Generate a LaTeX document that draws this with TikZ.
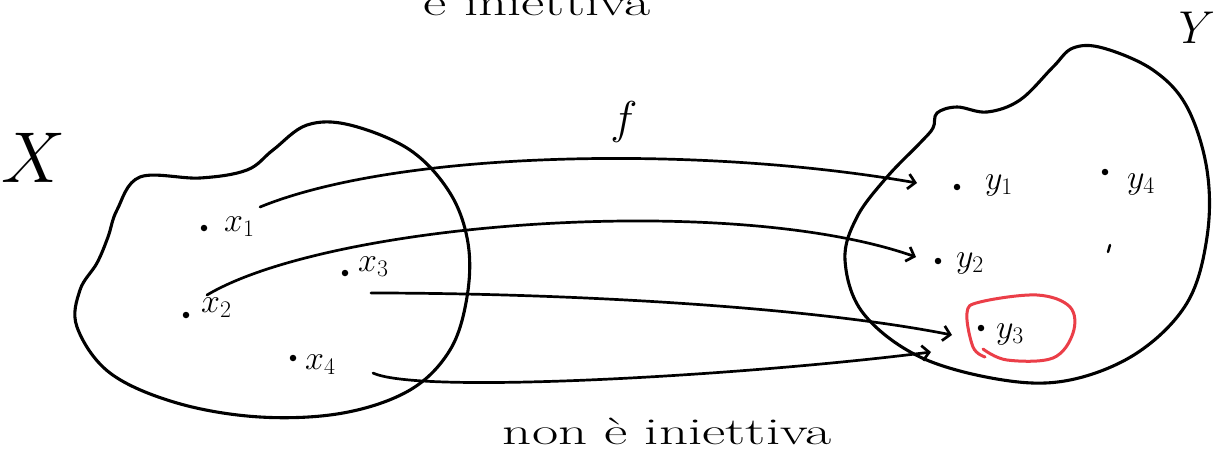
\RequirePackage{fix-cm}
\documentclass[tikz,border=0pt]{standalone}
\usetikzlibrary{arrows.meta}
\definecolor{redpen}{RGB}{235,62,72}
\begin{document}
\begin{tikzpicture}[x=1pt,y=-1pt,
  pen/.style={line width=3.1pt,line cap=round,line join=round,black},
  mapto/.style={pen,line width=2.7pt,-{Straight Barb[length=7pt,width=15pt,line width=2.7pt]}},
  ptdot/.style={circle,fill=black,inner sep=0pt,minimum size=6.5pt},
  lbl/.style={inner sep=0pt,anchor=base west,font=\fontsize{34}{38}\selectfont},
  settitle/.style={inner sep=0pt,anchor=base,font=\fontsize{72}{80}\selectfont},
  caption/.style={inner sep=0pt,anchor=base,xscale=1.5,font=\fontsize{38}{44}\selectfont}]
\useasboundingbox (0,0) rectangle (1222,453);
\fill[white] (0,0) rectangle (1222,453);

% set X
\draw[pen] plot[smooth cycle,tension=0.6] coordinates {(117,210) (140,177) (200,178) (247,170) (273,150) (307,125) (350,125) (410,150) (450,193) (468,243) (467,297) (450,350) (410,390) (343,413) (260,417) (177,403) (110,373) (77,327) (80,290) (97,263) (108,237)};
% set Y
\draw[pen] plot[smooth cycle,tension=0.6] coordinates {(933,128) (937,113) (957,107) (987,112) (1020,100) (1053,67) (1073,48) (1103,48) (1153,70) (1187,107) (1207,170) (1207,237) (1187,303) (1137,353) (1070,380) (1003,380) (920,357) (863,313) (845,260) (857,217) (887,177) (920,143)};

% titles
\node[settitle] (tX) at (34,182) {$X$};
\node[settitle,font=\fontsize{46}{52}\selectfont] (tY) at (1197,43) {$Y$};
\node[settitle,font=\fontsize{46}{52}\selectfont] (tf) at (624,133) {$f$};

% points of X
\node[ptdot] (x1) at (204,228) {};
\node[ptdot] (x2) at (186,315) {};
\node[ptdot] (x3) at (345,273) {};
\node[ptdot] (x4) at (293,358) {};
\node[lbl] (lx1) at (224,231) {$x_1$};
\node[lbl] (lx2) at (201,312) {$x_2$};
\node[lbl] (lx3) at (358,271) {$x_3$};
\node[lbl] (lx4) at (305,369) {$x_4$};

% points of Y
\node[ptdot] (y1) at (957,187) {};
\node[ptdot] (y2) at (938,261) {};
\node[ptdot] (y3) at (981,328) {};
\node[ptdot] (y4) at (1105,172) {};
\node[lbl] (ly1) at (985,189) {$y_1$};
\node[lbl] (ly2) at (956,267) {$y_2$};
\node[lbl] (ly3) at (996,338) {$y_3$};
\node[lbl] (ly4) at (1127,188) {$y_4$};

% small stray mark
\draw[pen,line width=2.4pt] (1110,245) -- (1108,252);

% red loop round y3
\draw[redpen,line width=3pt,line cap=round] plot[smooth,tension=0.6] coordinates {(985,357) (973,347) (967,313) (980,302) (1037,295) (1070,307) (1073,333) (1053,358) (1007,360) (983,349)};

% arrow ends
\coordinate (s1) at (260,207);
\coordinate (e1) at (917,183);
\coordinate (s2) at (207,295);
\coordinate (e2) at (916,257);
\coordinate (s3) at (371,293);
\coordinate (e3) at (952,335);
\coordinate (s4) at (373,373);
\coordinate (e4) at (931,352);

\draw[mapto] (s1) .. controls (400,150) and (700,145) .. (e1);
\draw[mapto] (s2) .. controls (330,222) and (730,192) .. (e2);
\draw[mapto] (s3) .. controls (550,293) and (800,305) .. (e3);
\draw[mapto] (s4) .. controls (420,395) and (750,375) .. (e4);

% captions
\node[caption] (top) at (537,15) {è iniettiva};
\node[caption] (bot) at (667,444) {non è iniettiva};
\end{tikzpicture}
\end{document}
